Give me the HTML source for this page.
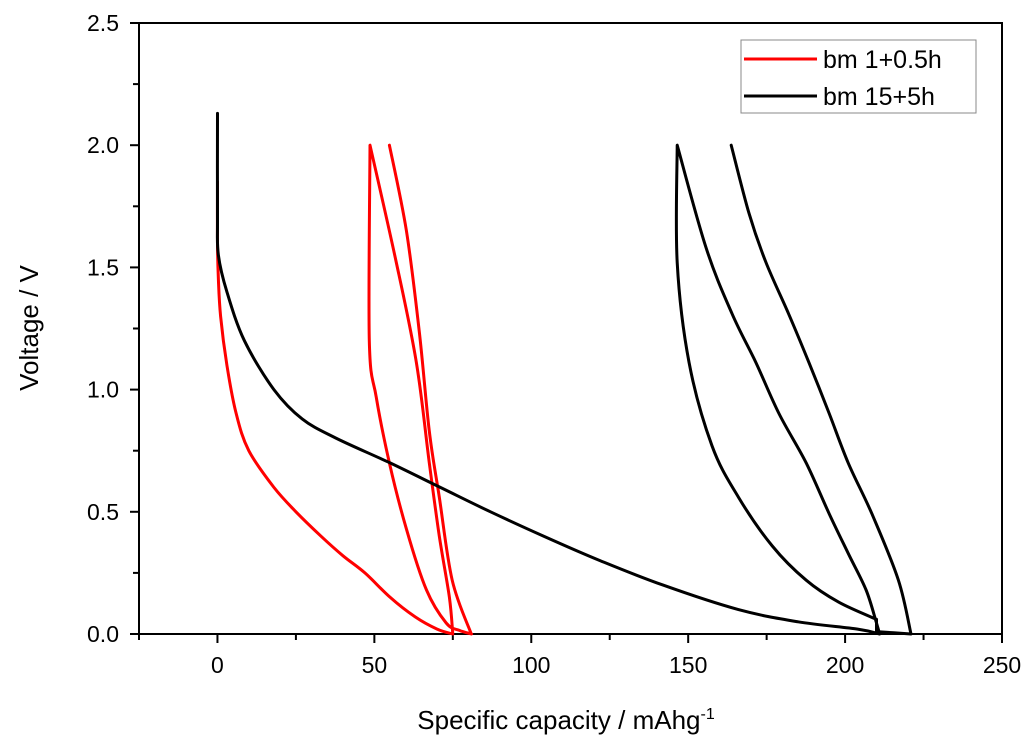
<!DOCTYPE html>
<html><head><meta charset="utf-8"><style>
body{margin:0;background:#fff;}
svg{display:block;font-family:"Liberation Sans",Arial,sans-serif;}
</style></head><body>
<svg id="chart" width="1024" height="746" viewBox="0 0 1024 746" xmlns="http://www.w3.org/2000/svg">
<g id="axes"></g>
<g id="series"></g>
<g>
<rect x="741" y="40" width="235" height="73" fill="#fff" stroke="#888" stroke-width="1"/>
<line x1="744" y1="59" x2="817" y2="59" stroke="#ff0000" stroke-width="3"/>
<text x="823" y="68" font-size="25">bm 1+0.5h</text>
<line x1="744" y1="96" x2="817" y2="96" stroke="#000" stroke-width="3"/>
<text x="823" y="105" font-size="25">bm 15+5h</text>
</g>
<text x="566" y="729" font-size="26" text-anchor="middle">Specific capacity / mAhg<tspan dy="-10" font-size="16">-1</tspan></text>
<text transform="translate(38,328) rotate(-90)" font-size="26" text-anchor="middle">Voltage / V</text>
</svg>
<script>
const xTicks=[0,50,100,150,200,250];
const yTicks=[0.0,0.5,1.0,1.5,2.0,2.5];
const redCap=[0,0,0.3,1,3,6,10,18,25,33,40,47,55,63,70,75,73.9,70.7,67.5,63.4,57,48.6,48.4,50.6,54.8,60.2,66.6,72.9,77,81,80.9,74.8,70.7,67.5,64.3,60.2,54.8];
const redVolt=[1.85,1.6,1.45,1.3,1.1,0.9,0.75,0.6,0.5,0.4,0.32,0.25,0.15,0.07,0.02,0,0.15,0.4,0.7,1.11,1.52,2.0,1.2,0.97,0.7,0.43,0.18,0.045,0.015,0,0,0.22,0.56,0.83,1.24,1.65,2.0];
const blackCap=[0,0,0.3,3,8.6,18,27,38,55,71,87,104,122,142,166,185,204,211,210,206.7,201,195,187.6,179,171.6,164,155.7,146.5,146.5,150.3,157.6,166,176.8,187.6,198,210,210,221,217,208.6,201,195,188.5,182,174.8,169.4,163.7];
const blackVolt=[2.13,1.7,1.55,1.4,1.2,1.0,0.88,0.8,0.7,0.6,0.5,0.4,0.3,0.2,0.1,0.05,0.02,0,0.045,0.18,0.33,0.49,0.7,0.9,1.11,1.31,1.58,2.0,1.52,1.11,0.77,0.56,0.36,0.22,0.13,0.06,0.01,0,0.22,0.49,0.7,0.9,1.11,1.31,1.52,1.72,2.0];
const X0=139,X1=1002,Y0=634,Y1=23,xmin=-25,xmax=250,ymin=0,ymax=2.5;
const sx=v=>X0+(v-xmin)/(xmax-xmin)*(X1-X0);
const sy=v=>Y0-(v-ymin)/(ymax-ymin)*(Y0-Y1);
const NS='http://www.w3.org/2000/svg';
const axes=document.getElementById('axes'),series=document.getElementById('series');
function mk(tag,attrs,parent){const e=document.createElementNS(NS,tag);for(const k in attrs)e.setAttribute(k,attrs[k]);parent.appendChild(e);return e;}
const frame=mk('rect',{x:X0,y:Y1,width:X1-X0,height:Y0-Y1,fill:'none',stroke:'#000','stroke-width':2},axes);


for(let v=-25;v<=250;v+=25){
  const major=v%50===0;
  const t=mk('line',{x1:sx(v),x2:sx(v),y1:Y0,y2:Y0+(major?9:6),stroke:'#000','stroke-width':2},axes);
  
  
}
xTicks.forEach(v=>{
  const t=mk('text',{x:sx(v),y:Y0+39,'font-size':23,'text-anchor':'middle'},axes);
  t.textContent=String(v);
  
  
});
for(let i=0;i<=10;i++){
  const v=i*0.25,major=i%2===0;
  const t=mk('line',{x1:X0,x2:X0-(major?9:6),y1:sy(v),y2:sy(v),stroke:'#000','stroke-width':2},axes);
  
  
}
yTicks.forEach(v=>{
  const t=mk('text',{x:X0-20,y:sy(v)+8,'font-size':23,'text-anchor':'end'},axes);
  t.textContent=v.toFixed(1);
  
  
});
function smoothPath(pts){
  const runs=[];let cur=[pts[0]];
  for(let i=1;i<pts.length;i++){
    cur.push(pts[i]);
    if(i<pts.length-1){
      const a=pts[i-1],b=pts[i],c=pts[i+1];
      const v1=[b[0]-a[0],b[1]-a[1]],v2=[c[0]-b[0],c[1]-b[1]];
      const l1=Math.hypot(...v1),l2=Math.hypot(...v2);
      if(l1>0&&l2>0){const cos=(v1[0]*v2[0]+v1[1]*v2[1])/(l1*l2);if(cos<0.5){runs.push(cur);cur=[pts[i]];}}
    }
  }
  runs.push(cur);
  let d='M'+pts[0][0].toFixed(1)+','+pts[0][1].toFixed(1);
  runs.forEach(r=>{
    for(let i=0;i<r.length-1;i++){
      const p0=r[i-1]||r[i],p1=r[i],p2=r[i+1],p3=r[i+2]||r[i+1];
      const c1=[p1[0]+(p2[0]-p0[0])/6,p1[1]+(p2[1]-p0[1])/6];
      const c2=[p2[0]-(p3[0]-p1[0])/6,p2[1]-(p3[1]-p1[1])/6];
      d+=' C'+c1[0].toFixed(1)+','+c1[1].toFixed(1)+' '+c2[0].toFixed(1)+','+c2[1].toFixed(1)+' '+p2[0].toFixed(1)+','+p2[1].toFixed(1);
    }
  });
  return d;
}
function draw(cap,volt,color,name){
  const pts=cap.map((c,i)=>[sx(c),sy(volt[i])]);
  const p=mk('path',{d:smoothPath(pts),fill:'none',stroke:color,'stroke-width':3,'stroke-linejoin':'round','stroke-linecap':'round'},series);
  
  
}
draw(redCap,redVolt,'#ff0000','series-bm-1-0.5h');
draw(blackCap,blackVolt,'#000','series-bm-15-5h');
</script>
</body></html>
